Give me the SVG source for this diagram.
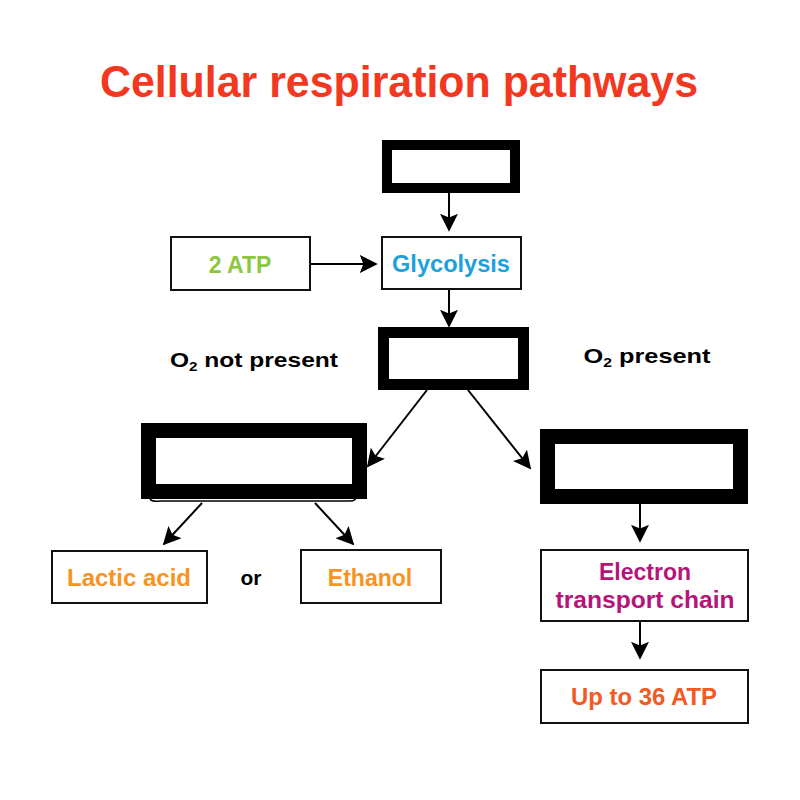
<svg xmlns="http://www.w3.org/2000/svg" width="800" height="800" viewBox="0 0 800 800">
<defs>
<style>
.t{font-family:"Liberation Sans",Arial,sans-serif;font-weight:bold;text-anchor:middle}
.box{fill:#fff;stroke:#111;stroke-width:2}
.blk{fill:#fff;stroke:#000}
.ln{stroke:#000;stroke-width:2;fill:none;marker-end:url(#ah)}
</style>
<marker id="ah" viewBox="0 0 10 10" refX="9" refY="5" markerWidth="9" markerHeight="9" markerUnits="strokeWidth" orient="auto">
<path d="M0,0 L10,5 L0,10 L2,5 z" fill="#000"/>
</marker>
</defs>
<rect width="800" height="800" fill="#fff"/>
<text class="t" x="399" y="97" font-size="44" fill="#f2391f" textLength="598" lengthAdjust="spacingAndGlyphs">Cellular respiration pathways</text>

<g id="connectors">
<line class="ln" x1="449" y1="193" x2="449" y2="230"/>
<line class="ln" x1="310" y1="264" x2="376" y2="264"/>
<line class="ln" x1="449" y1="290" x2="449" y2="326"/>
<line class="ln" x1="427" y1="390" x2="368" y2="466"/>
<line class="ln" x1="468" y1="390" x2="530" y2="468"/>
<line class="ln" x1="202" y1="503" x2="164" y2="544"/>
<line class="ln" x1="315" y1="503" x2="353" y2="544"/>
<line class="ln" x1="640" y1="504" x2="640" y2="541"/>
<line class="ln" x1="640" y1="621" x2="640" y2="658"/>
</g>

<g id="top-box"><rect class="blk" x="387" y="145" width="128" height="43" stroke-width="10"/></g>
<g id="glycolysis"><rect class="box" x="382" y="237" width="139" height="52"/><text class="t" x="451" y="272" font-size="23" fill="#1da1db" textLength="118" lengthAdjust="spacingAndGlyphs">Glycolysis</text></g>
<g id="atp2"><rect class="box" x="171" y="237" width="139" height="53"/><text class="t" x="240" y="273" font-size="23" fill="#8dc63f">2 ATP</text></g>
<g id="mid-box"><rect class="blk" x="383.5" y="332.5" width="140" height="52" stroke-width="11"/></g>
<text class="t" x="254" y="367" font-size="21" fill="#000" textLength="168" lengthAdjust="spacingAndGlyphs">O<tspan font-size="13" dy="4">2</tspan><tspan dy="-4"> not present</tspan></text>
<text class="t" x="647" y="363" font-size="21" fill="#000" textLength="127" lengthAdjust="spacingAndGlyphs">O<tspan font-size="13" dy="4">2</tspan><tspan dy="-4"> present</tspan></text>
<g id="left-box"><rect class="blk" x="148.5" y="430.5" width="211" height="61" stroke-width="15"/><path d="M150,499 Q152,502 160,501 L350,501 Q356,501 356,497" fill="none" stroke="#000" stroke-width="1.5"/></g>
<g id="right-box"><rect class="blk" x="547.5" y="436.5" width="193" height="60" stroke-width="15"/></g>
<g id="lactic"><rect class="box" x="52" y="551" width="155" height="52"/><text class="t" x="129" y="586" font-size="23" fill="#f7931e" textLength="124" lengthAdjust="spacingAndGlyphs">Lactic acid</text></g>
<text class="t" x="251" y="585" font-size="21" fill="#000">or</text>
<g id="ethanol"><rect class="box" x="301" y="550" width="140" height="53"/><text class="t" x="370" y="586" font-size="23" fill="#f7931e">Ethanol</text></g>
<g id="etc"><rect class="box" x="541" y="550" width="207" height="71"/><text class="t" x="645" y="580" font-size="23" fill="#b5157a">Electron</text><text class="t" x="645" y="608" font-size="23" fill="#b5157a" textLength="179" lengthAdjust="spacingAndGlyphs">transport chain</text></g>
<g id="atp36"><rect class="box" x="541" y="670" width="207" height="53"/><text class="t" x="644" y="705" font-size="23" fill="#f15a22" textLength="146" lengthAdjust="spacingAndGlyphs">Up to 36 ATP</text></g>
</svg>
